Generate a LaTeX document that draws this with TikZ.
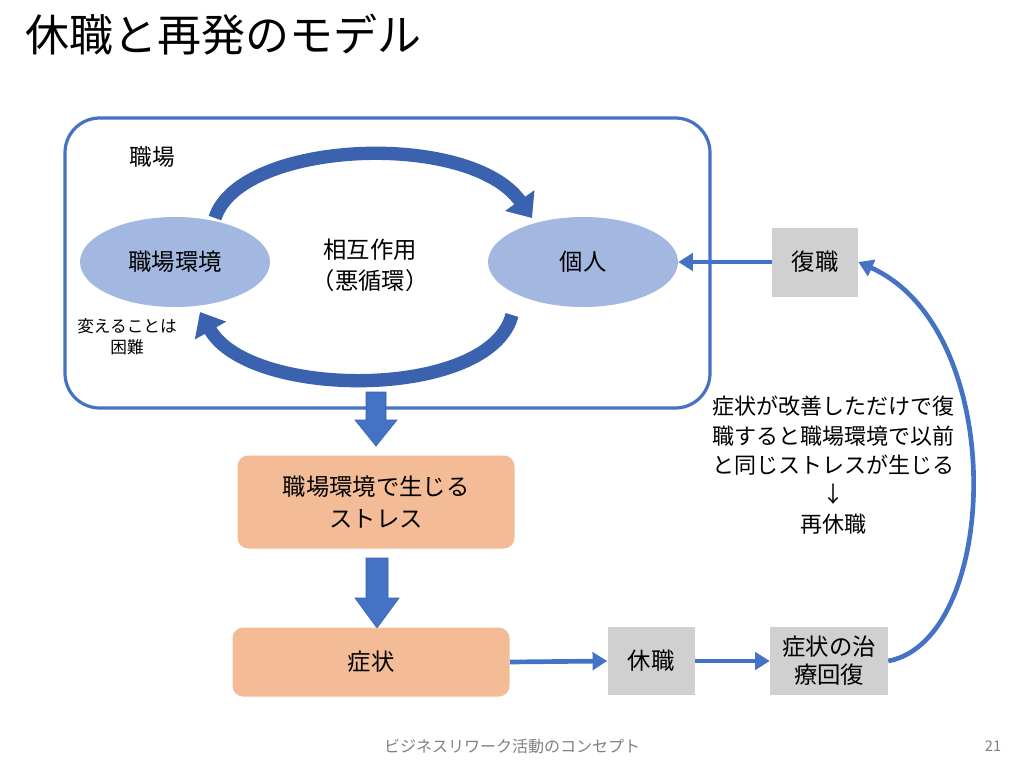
\documentclass[tikz,border=0pt]{standalone}
\usepackage{fontspec}
\setmainfont{Noto Sans CJK JP}
\usetikzlibrary{arrows.meta,shapes.geometric}
\definecolor{bl}{HTML}{4472C4}
\definecolor{bld}{HTML}{3A62AE}
\definecolor{ell}{HTML}{A3B8E0}
\definecolor{org}{HTML}{F4BC96}
\definecolor{gry}{HTML}{D0D0D0}
\begin{document}
\begin{tikzpicture}[x=0.75pt,y=-0.75pt,
  el/.style={ellipse,fill=ell,minimum width=190*0.75pt,minimum height=90*0.75pt,font=\fontsize{17.5}{21}\selectfont},
  ob/.style={rounded corners=8pt,fill=org,font=\fontsize{17.5}{24}\selectfont,align=center},
  gb/.style={fill=gry,font=\fontsize{17.5}{21}\selectfont,align=center,inner sep=0pt},
  ar/.style={bl,line width=3.5pt,-{Triangle[length=11pt,width=13pt]}},
  arc/.style={bld,line width=10pt,-{Triangle[length=16pt,width=26pt]}},
  blk/.style={fill=bl,draw=bld,line width=0.5pt}]
\useasboundingbox (0,0) rectangle (1024,768);
\node[anchor=west,font=\fontsize{33}{36}\selectfont,inner sep=0pt] (title) at (25,35) {休職と再発のモデル};
\draw[bl,line width=2.4pt,rounded corners=26pt] (65,118) rectangle (710,408);
\node[font=\fontsize{17}{20}\selectfont] (ws) at (152,157) {職場};
\node[el] (env) at (175,262) {職場環境};
\node[el] (me) at (583,262) {個人};
\node[align=center,font=\fontsize{17.5}{23}\selectfont] (mut) at (370,265) {相互作用\\（悪循環）};
\coordinate (t1) at (215,218); \coordinate (t2) at (532,218);
\coordinate (b1) at (512,315); \coordinate (b2) at (200,312);
\draw[arc] (t1) .. controls (240,140) and (470,130) .. (t2);
\draw[arc] (b1) .. controls (490,400) and (250,400) .. (b2);
\node[align=center,font=\fontsize{12.5}{16}\selectfont] (hard) at (127,337) {変えることは\\困難};
\draw[blk] (366,392) -- (386,392) -- (386,420) -- (397,420) -- (376,446) -- (355,420) -- (366,420) -- cycle;
\node[ob,minimum width=277*0.75pt,minimum height=93*0.75pt] (st) at (376,502) {職場環境で生じる\\ストレス};
\draw[blk] (366,558) -- (388,558) -- (388,598) -- (399,598) -- (377,628) -- (355,598) -- (366,598) -- cycle;
\node[ob,minimum width=277*0.75pt,minimum height=69*0.75pt] (sy) at (371,662) {症状};
\node[gb,minimum width=87*0.75pt,minimum height=68*0.75pt] (leave) at (651,661) {休職};
\node[gb,minimum width=118*0.75pt,minimum height=68*0.75pt] (cure) at (829,661) {症状の治\\療回復};
\node[gb,minimum width=86*0.75pt,minimum height=69*0.75pt] (ret) at (815,262) {復職};
\draw[ar] (sy.east) -- (leave.west);
\draw[ar] (leave.east) -- (cure.west);
\draw[ar] (ret.west) -- (me.east);
\draw[ar] (cure.east) .. controls (1000,640) and (1010,330) .. (ret.east);
\node[align=center,font=\fontsize{16.5}{22}\selectfont] (note) at (833,465) {症状が改善しただけで復\\職すると職場環境で以前\\と同じストレスが生じる\\↓\\再休職};
\node[text=gray,font=\fontsize{12}{14}\selectfont] (foot) at (512,746) {ビジネスリワーク活動のコンセプト};
\node[text=gray,font=\fontsize{11}{13}\selectfont] (pg) at (993,746) {21};
\end{tikzpicture}
\end{document}
